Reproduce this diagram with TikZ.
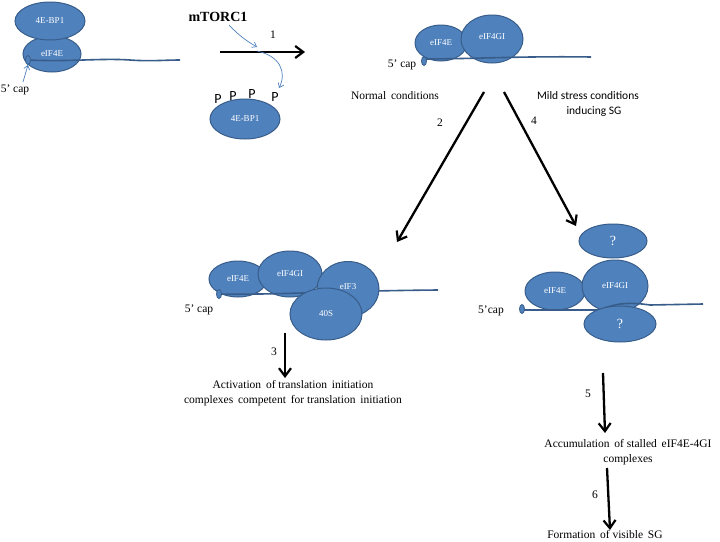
\documentclass[tikz,border=0pt]{standalone}
\usepackage{fontspec}
\setmainfont{Liberation Serif}
\newfontfamily\calib{Carlito}
\usetikzlibrary{shapes.geometric,arrows.meta}
\definecolor{pfill}{RGB}{79,129,189}
\definecolor{pedge}{RGB}{56,93,138}
\begin{document}
\begin{tikzpicture}[x=1pt,y=-1pt,
  prot/.style={ellipse, fill=pfill, draw=pedge, line width=1pt, text=white, font=\fontsize{9}{10}\selectfont, inner sep=0pt},
  qprot/.style={prot, font=\fontsize{14}{14}\selectfont},
  mrna/.style={draw=pedge, line width=1.6pt},
  capn/.style={ellipse, fill=pfill, draw=pedge, line width=0.8pt, minimum width=5pt, minimum height=9pt, inner sep=0pt},
  lbl/.style={inner sep=0pt, font=\fontsize{11.5}{13}\selectfont},
  clbl/.style={inner sep=0pt, font=\calib\fontsize{11.5}{13}\selectfont},
  pmark/.style={inner sep=0pt, font=\calib\fontsize{14}{14}\selectfont},
  bigarrow/.style={line width=2.3pt, -{Straight Barb[length=8pt,width=12pt,line width=2.2pt]}},
  bluearrow/.style={draw=pfill, line width=0.7pt, -{Straight Barb[length=4pt,width=6pt]}}
]
\useasboundingbox (0,0) rectangle (720,541);
\fill[white] (0,0) rectangle (720,541);

% ---------- top-left complex ----------
\node[prot, minimum width=58pt, minimum height=36pt] (tlE) at (52,54) {eIF4E};
\node[prot, minimum width=70pt, minimum height=38pt] (tlB) at (50,21) {4E-BP1};
\coordinate (tlL) at (28,60);
\coordinate (tlR) at (180,60);
\draw[mrna] (tlL) .. controls (70,62) and (100,58) .. (130,60) .. controls (150,61.5) and (165,60) .. (tlR);
\node[capn] (tlcap) at (28,60) {};
\node[lbl] (tlcapt) at (15,90) {5' cap};
\coordinate (tlca) at (23,82);
\draw[bluearrow] (tlca) -- (tlcap.south);

% ---------- mTORC1 step ----------
\node[inner sep=0pt, font=\bfseries\fontsize{14}{14}\selectfont] (mtor) at (218,17) {mTORC1};
\coordinate (a1s) at (220,52);
\coordinate (a1e) at (305,52);
\draw[bigarrow] (a1s) -- (a1e);
\node[lbl] (n1) at (273,35) {1};
\coordinate (mts) at (229,25);
\coordinate (mte) at (257,47);
\draw[bluearrow] (mts) to[bend right=8] (mte);
\coordinate (cvs) at (257,51);
\coordinate (cve) at (279,88);
\draw[bluearrow] (cvs) .. controls (280,56) and (287,72) .. (cve);
\node[prot, minimum width=70pt, minimum height=40pt] (bp1) at (245,119) {4E-BP1};
\node[pmark] (p1) at (218,99) {P};
\node[pmark] (p2) at (233,96) {P};
\node[pmark] (p3) at (252,94) {P};
\node[pmark] (p4) at (275,97) {P};

% ---------- top-right complex ----------
\node[prot, minimum width=52pt, minimum height=36pt] (trE) at (441,43) {eIF4E};
\node[prot, minimum width=62pt, minimum height=48pt] (trG) at (492,39) {\raisebox{4pt}{eIF4GI}};
\coordinate (trL) at (424,59);
\coordinate (trR) at (591,57);
\draw[mrna] (trL) .. controls (470,59) and (520,56) .. (trR);
\node[capn] (trcap) at (424,61) {};
\node[lbl] (trcapt) at (402,65) {5' cap};
\node[lbl] (normal) at (395,96) {Normal\, conditions};
\node[clbl] (mild1) at (588,96) {Mild stress conditions};
\node[clbl] (mild2) at (594,111) {inducing SG};
\node[lbl] (n2) at (440,123) {2};
\node[lbl] (n4) at (534,121) {4};
\coordinate (a2s) at (484,92);
\coordinate (a2e) at (397,242);
\coordinate (a4s) at (504,92);
\coordinate (a4e) at (576,226);
\draw[bigarrow] (a2s) -- (a2e);
\draw[bigarrow] (a4s) -- (a4e);

% ---------- middle-left complex ----------
\node[prot, minimum width=58pt, minimum height=36pt] (mE) at (238,279) {eIF4E};
\node[prot, minimum width=64pt, minimum height=46pt] (mG) at (290,274) {eIF4GI};
\coordinate (mL) at (219,294);
\coordinate (mR) at (438,290);
\draw[mrna] (mL) .. controls (280,295) and (330,291) .. (mR);
\node[capn] (mcap) at (219,294) {};
\node[prot, minimum width=62pt, minimum height=55pt] (m3) at (348,289) {\raisebox{4pt}{eIF3}};
\node[prot, minimum width=72pt, minimum height=52pt] (m40) at (326,314) {40S};
\node[lbl] (mcapt) at (199,310) {5' cap};
\coordinate (a3s) at (285,333);
\coordinate (a3e) at (285,378);
\draw[bigarrow] (a3s) -- (a3e);
\node[lbl] (n3) at (274,352) {3};
\node[lbl, align=center, font=\fontsize{11.5}{15}\selectfont] (act) at (293,393)
  {Activation\, of translation\, initiation\\complexes\, competent\, for translation\, initiation};

% ---------- right complex ----------
\node[qprot, minimum width=68pt, minimum height=34pt] (rq1) at (613,241) {?};
\node[prot, minimum width=60pt, minimum height=38pt] (rE) at (555,291) {eIF4E};
\node[prot, minimum width=66pt, minimum height=52pt] (rG) at (615,286) {eIF4GI};
\coordinate (rL) at (522,310);
\coordinate (rM) at (600,310);
\coordinate (rN) at (650,305);
\coordinate (rR) at (703,304);
\draw[mrna] (rL) -- (rM) .. controls (615,303) and (630,302) .. (rN) -- (rR);
\node[capn] (rcap) at (522,309) {};
\node[qprot, minimum width=72pt, minimum height=36pt] (rq2) at (620,324) {?};
\node[lbl] (rcapt) at (491,311) {5'cap};
\coordinate (a5s) at (603,373);
\coordinate (a5e) at (605,433);
\draw[bigarrow] (a5s) -- (a5e);
\node[lbl] (n5) at (588,394) {5};
\node[lbl, align=center, font=\fontsize{11.5}{15}\selectfont] (accum) at (628,452)
  {Accumulation\, of stalled\, eIF4E-4GI\\complexes};
\coordinate (a6s) at (607,468);
\coordinate (a6e) at (610,530);
\draw[bigarrow] (a6s) -- (a6e);
\node[lbl] (n6) at (595,495) {6};
\node[lbl] (form) at (605,534) {Formation\, of visible\, SG};
\end{tikzpicture}
\end{document}
